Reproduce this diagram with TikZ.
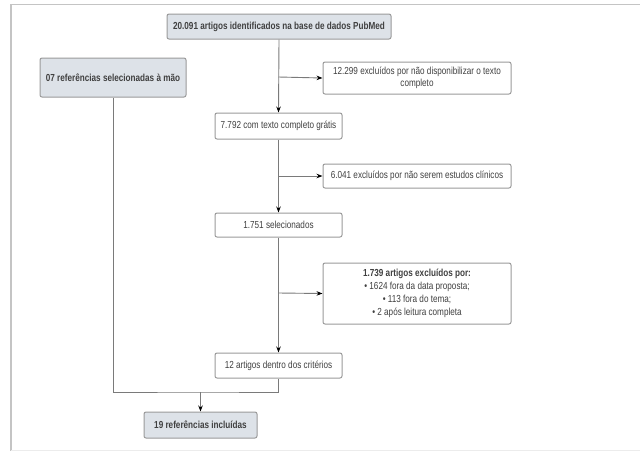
\documentclass[tikz,border=0pt]{standalone}
\usepackage{fontspec}
\setmainfont[FakeStretch=0.8]{Liberation Sans}
\usetikzlibrary{arrows.meta}
\definecolor{boxline}{HTML}{9A9A9A}
\definecolor{boxfill}{HTML}{DDE2E8}
\definecolor{txt}{HTML}{404040}
\definecolor{conn}{HTML}{7A7A7A}
\definecolor{frame}{HTML}{C4C4C4}
\tikzset{
  box/.style={draw=boxline, line width=1pt, rounded corners=2pt, fill=white, text=txt, align=center, inner sep=1pt, font=\fontsize{10.2}{12}\selectfont},
  hbox/.style={box, fill=boxfill, font=\fontsize{10.2}{12}\selectfont\bfseries},
  conline/.style={draw=conn, line width=0.9pt},
  arr/.style={conline, -{Stealth[length=6pt,width=4.5pt,fill=black,color=black]}},
}
\begin{document}
\begin{tikzpicture}[x=1pt,y=-1pt]
\useasboundingbox (0,0) rectangle (640,451);
\fill[white] (0,0) rectangle (640,451);
% frame
\draw[frame, line width=1.6pt] (11,451) -- (11,4.5) -- (641,4.5);
\draw[gray!15, line width=0.8pt] (11,450) -- (641,450);
% nodes
\node[hbox, minimum width=224pt, minimum height=25pt] (top) at (279,26.5) {20.091 artigos identificados na base de dados PubMed};
\node[hbox, minimum width=146pt, minimum height=39pt] (ref) at (113,77.5) {07 referências selecionadas à mão};
\node[box, minimum width=188pt, minimum height=32pt] (ex1) at (417,78) {12.299 excluídos por não disponibilizar o texto\\completo};
\node[box, minimum width=127pt, minimum height=26pt] (b1) at (278.5,126) {7.792 com texto completo grátis};
\node[box, minimum width=188pt, minimum height=24pt] (ex2) at (417,176) {6.041 excluídos por não serem estudos clínicos};
\node[box, minimum width=127pt, minimum height=24pt] (b2) at (278.5,225) {1.751 selecionados};
\node[box, minimum width=188pt, minimum height=61pt, font=\fontsize{10.2}{13}\selectfont] (ex3) at (417,293.5) {\textbf{1.739 artigos excluídos por:}\\• 1624 fora da data proposta;\\• 113 fora do tema;\\• 2 após leitura completa};
\node[box, minimum width=127pt, minimum height=25pt] (b3) at (278.5,365.5) {12 artigos dentro dos critérios};
\node[hbox, minimum width=113pt, minimum height=26pt] (fin) at (200.5,425) {19 referências incluídas};
% coordinates
\coordinate (c1) at (278.5,77);
\coordinate (c2) at (278.5,176);
\coordinate (c3) at (278.5,293);
\coordinate (m) at (200.5,392);
% connectors
\draw[arr] (top.south) -- (b1.north);
\draw[arr] (c1) -- (ex1.west);
\draw[arr] (b1.south) -- (b2.north);
\draw[arr] (c2) -- (ex2.west);
\draw[arr] (b2.south) -- (b3.north);
\draw[arr] (c3) -- (ex3.west);
\draw[conline] (ref.south) |- (m) -| (b3.south);
\draw[arr] (m) -- (fin.north);
\end{tikzpicture}
\end{document}
